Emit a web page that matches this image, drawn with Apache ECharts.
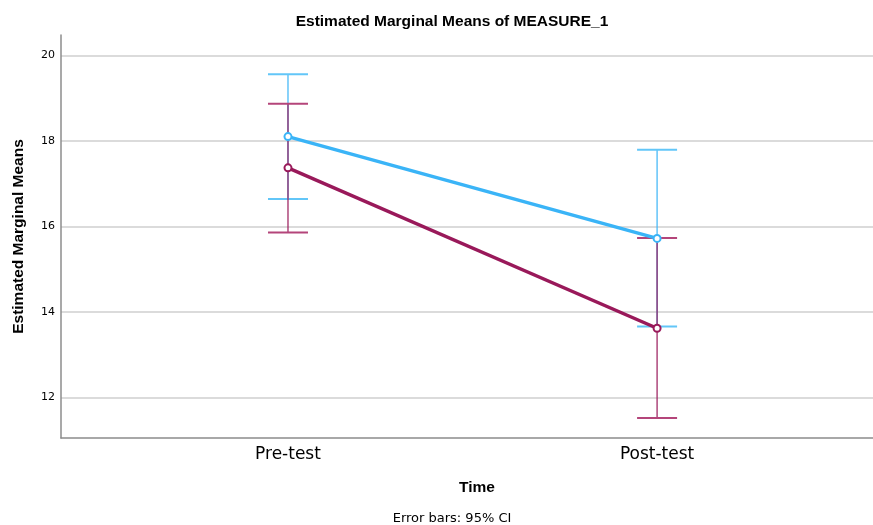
<!DOCTYPE html>
<html>
<head>
<meta charset="utf-8">
<script src="https://cdn.jsdelivr.net/npm/echarts@6/dist/echarts.min.js"></script>
<style>
  html, body { margin: 0; padding: 0; background: #fff; }
  #chart { width: 873px; height: 525px; }
</style>
</head>
<body>
<div id="chart"></div>
<script>
// Time points (x positions 1 and 2 on a numeric axis)
const timeLabels = ['Pre-test', 'Post-test'];
const timeX = [1, 2];

// Group A (blue): means and 95% CI bounds
const meansA = [18.10, 15.72];
const lowerA = [16.64, 13.66];
const upperA = [19.56, 17.79];

// Group B (crimson): means and 95% CI bounds
const meansB = [17.37, 13.62];
const lowerB = [15.86, 11.52];
const upperB = [18.87, 15.73];

const yTicks = [12, 14, 16, 18, 20];

const BLUE = '#3ab4f7';
const BLUE_CAP = '#62c6f8';
const CRIMSON = '#99195a';
const CRIMSON_CAP = '#b4457a';

function errorSeries(lower, upper, lineColor, capColor) {
  return {
    type: 'custom',
    silent: true,
    z: 2,
    data: timeX.map((x, i) => [x, lower[i], upper[i]]),
    renderItem: function (params, api) {
      const x = api.value(0);
      const lo = api.coord([x, api.value(1)]);
      const hi = api.coord([x, api.value(2)]);
      const half = 20;
      return {
        type: 'group',
        children: [
          { type: 'line', shape: { x1: lo[0], y1: lo[1], x2: hi[0], y2: hi[1] },
            style: { stroke: lineColor, lineWidth: 1.2 } },
          { type: 'line', shape: { x1: hi[0] - half, y1: hi[1], x2: hi[0] + half, y2: hi[1] },
            style: { stroke: capColor, lineWidth: 2 } },
          { type: 'line', shape: { x1: lo[0] - half, y1: lo[1], x2: lo[0] + half, y2: lo[1] },
            style: { stroke: capColor, lineWidth: 2 } }
        ]
      };
    }
  };
}

function meanSeries(means, color) {
  return {
    type: 'line',
    z: 3,
    data: timeX.map((x, i) => [x, means[i]]),
    symbol: 'emptyCircle',
    symbolSize: 7,
    lineStyle: { color: color, width: 3.5 },
    itemStyle: { color: color, borderColor: color, borderWidth: 1.2 },
    animation: false
  };
}

const chart = echarts.init(document.getElementById('chart'), null, { renderer: 'canvas' });

chart.setOption({
  animation: false,
  backgroundColor: '#ffffff',
  title: [
    {
      text: 'Estimated Marginal Means of MEASURE_1',
      left: 447, top: 9, textAlign: 'center',
      textStyle: { fontFamily: 'Liberation Sans', fontSize: 15.5, fontWeight: 'bold', color: '#000' }
    },
    {
      text: 'Time',
      left: 472, top: 475, textAlign: 'center',
      textStyle: { fontFamily: 'Liberation Sans', fontSize: 15.5, fontWeight: 'bold', color: '#000' }
    },
    {
      text: 'Error bars: 95% CI',
      left: 447, top: 507, textAlign: 'center',
      textStyle: { fontFamily: 'DejaVu Sans', fontSize: 13, fontWeight: 'normal', color: '#000' }
    }
  ],
  grid: { left: 61, top: 35, right: 0, bottom: 87, outerBoundsMode: 'none' },
  xAxis: {
    type: 'value',
    min: 0.385,
    max: 2.585,
    axisLine: { show: true, lineStyle: { color: '#8c8c8c', width: 1.5 } },
    axisTick: { show: false },
    splitLine: { show: false },
    axisLabel: {
      customValues: timeX,
      margin: 8,
      fontFamily: 'DejaVu Sans',
      fontSize: 17,
      color: '#000',
      formatter: function (v) {
        const i = timeX.indexOf(v);
        return i >= 0 ? timeLabels[i] : '';
      }
    }
  },
  yAxis: {
    type: 'value',
    min: 11.055,
    max: 20.475,
    name: 'Estimated Marginal Means',
    nameLocation: 'middle',
    nameGap: 34,
    nameRotate: 90,
    nameTextStyle: { fontFamily: 'Liberation Sans', fontSize: 15.5, fontWeight: 'bold', color: '#000' },
    axisLine: { show: true, lineStyle: { color: '#8c8c8c', width: 1.5 } },
    axisTick: { show: false, customValues: yTicks },
    splitLine: { show: true, lineStyle: { color: '#cfcfcf', width: 1.5 } },
    axisLabel: {
      customValues: yTicks,
      margin: 6,
      fontFamily: 'DejaVu Sans',
      fontSize: 11,
      color: '#000'
    }
  },
  series: [
    errorSeries(lowerA, upperA, BLUE, BLUE_CAP),
    errorSeries(lowerB, upperB, CRIMSON, CRIMSON_CAP),
    meanSeries(meansA, BLUE),
    meanSeries(meansB, CRIMSON)
  ]
});
</script>
</body>
</html>
